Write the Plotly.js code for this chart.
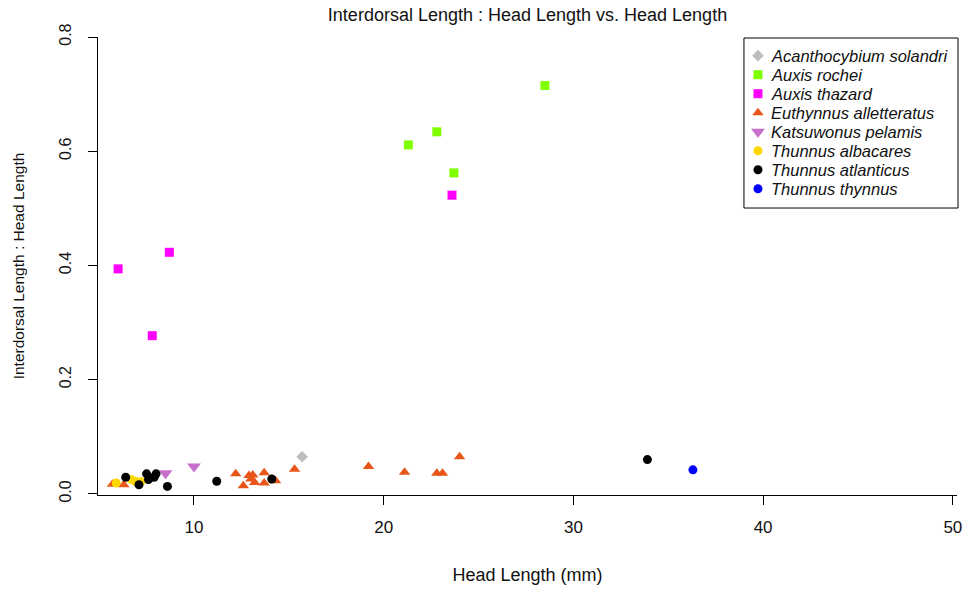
<!DOCTYPE html>
<html>
<head>
<meta charset="utf-8">
<script src="https://cdn.plot.ly/plotly-3.0.1.min.js"></script>
<style>
  html, body { margin: 0; padding: 0; background: #fff; }
  #chart { width: 971px; height: 592px; }
</style>
</head>
<body>
<div id="chart"></div>
<script>
// Interdorsal length relative to head length, by species
const species = [
  "Acanthocybium solandri",
  "Auxis rochei",
  "Auxis thazard",
  "Euthynnus alletteratus",
  "Katsuwonus pelamis",
  "Thunnus albacares",
  "Thunnus atlanticus",
  "Thunnus thynnus"
];

// Head length (mm) per species
const headAcanthocybium = [15.7];
const headRochei = [28.5, 22.8, 21.3, 23.7];
const headThazard = [23.6, 8.7, 6.0, 7.8];
const headEuthynnus = [5.7, 6.3, 12.2, 12.6, 12.9, 13.0, 13.1, 13.2, 13.7, 13.7,
                       14.3, 15.3, 19.2, 21.1, 22.8, 23.1, 24.0];
const headKatsuwonus = [8.5, 10.0];
const headAlbacares = [5.9, 6.7, 6.9, 7.2];
const headAtlanticus = [6.4, 7.1, 7.5, 7.6, 8.0, 7.9, 8.6, 11.2, 14.1, 33.9];
const headThynnus = [36.3];

// Interdorsal length : head length ratio per species
const ratioAcanthocybium = [0.065];
const ratioRochei = [0.715, 0.634, 0.611, 0.562];
const ratioThazard = [0.523, 0.423, 0.394, 0.277];
const ratioEuthynnus = [0.017, 0.016, 0.035, 0.014, 0.032, 0.026, 0.033, 0.020, 0.037, 0.019,
                        0.023, 0.043, 0.048, 0.038, 0.036, 0.036, 0.065];
const ratioKatsuwonus = [0.036, 0.048];
const ratioAlbacares = [0.019, 0.025, 0.022, 0.021];
const ratioAtlanticus = [0.029, 0.016, 0.035, 0.025, 0.035, 0.029, 0.013, 0.022, 0.026, 0.060];
const ratioThynnus = [0.042];

const xTicks = [10, 20, 30, 40, 50];
const yTicks = [0.0, 0.2, 0.4, 0.6, 0.8];

const colors = ["#BEBEBE", "#7FFF00", "#FF00FF", "#E8561A", "#C86FCB", "#FFD700", "#000000", "#0000FF"];
const symbols = ["diamond", "square", "square", "triangle-up", "triangle-down", "circle", "circle", "circle"];
const sizes = [9, 9, 9, 10, 12, 9, 9, 9];

const heads = [headAcanthocybium, headRochei, headThazard, headEuthynnus,
               headKatsuwonus, headAlbacares, headAtlanticus, headThynnus];
const ratios = [ratioAcanthocybium, ratioRochei, ratioThazard, ratioEuthynnus,
                ratioKatsuwonus, ratioAlbacares, ratioAtlanticus, ratioThynnus];

const plain = "Liberation Sans, Arial, sans-serif";

const traces = species.map((name, i) => ({
  type: "scatter",
  mode: "markers",
  name: name,
  x: heads[i],
  y: ratios[i],
  cliponaxis: false,
  marker: { symbol: symbols[i], color: colors[i], size: sizes[i], line: { width: 0 } },
  showlegend: false
}));

// Key: symbols on an overlay axis spanning the plot area, labels as annotations
const keySymX = 0.7683, keyTextX = 0.7812, keyTop = 0.9592, keyStep = 0.0415;
const keyY = species.map((_, i) => keyTop - i * keyStep);
species.forEach((name, i) => {
  traces.push({
    type: "scatter",
    mode: "markers",
    xaxis: "x2",
    yaxis: "y2",
    x: [keySymX],
    y: [keyY[i]],
    cliponaxis: false,
    marker: { symbol: symbols[i], color: colors[i], size: sizes[i], opacity: 1, line: { width: 0 } },
    showlegend: false
  });
});

const annotations = species.map((name, i) => ({
  xref: "paper", yref: "paper",
  x: keyTextX, y: keyY[i],
  xanchor: "left", yanchor: "middle",
  text: name,
  showarrow: false,
  font: { family: plain, size: 16.5, color: "#111", style: "italic" }
}));

const layout = {
  width: 971,
  height: 592,
  margin: { l: 98, r: 14, t: 37, b: 97 },
  paper_bgcolor: "#fff",
  plot_bgcolor: "#fff",
  showlegend: false,
  title: {
    text: "Interdorsal Length : Head Length vs. Head Length",
    font: { family: plain, size: 18, color: "#111" },
    x: 0.5, xref: "paper", xanchor: "center",
    y: 0.975, yanchor: "middle"
  },
  xaxis: {
    range: [4.94, 50.22],
    tickvals: xTicks,
    ticktext: xTicks.map(String),
    showgrid: false, zeroline: false,
    showline: true, linecolor: "#000", linewidth: 1,
    ticks: "outside", ticklen: 9, tickcolor: "#000", tickwidth: 1,
    ticklabelstandoff: 8,
    tickfont: { family: plain, size: 17, color: "#111" },
    title: { text: "Head Length (mm)", font: { family: plain, size: 18, color: "#111" }, standoff: 31 }
  },
  yaxis: {
    range: [-0.002, 0.8],
    tickvals: yTicks,
    ticktext: yTicks.map(v => v.toFixed(1)),
    tickangle: -90,
    showgrid: false, zeroline: false,
    showline: true, linecolor: "#000", linewidth: 1,
    ticks: "outside", ticklen: 9, tickcolor: "#000", tickwidth: 1,
    ticklabelstandoff: 11,
    tickfont: { family: plain, size: 16, color: "#111" },
    title: { text: "Interdorsal Length : Head Length", font: { family: plain, size: 15.5, color: "#111" }, standoff: 28 }
  },
  xaxis2: { domain: [0, 1], range: [0, 1], overlaying: "x", anchor: "y2", visible: false, fixedrange: true },
  yaxis2: { domain: [0, 1], range: [0, 1], overlaying: "y", anchor: "x2", visible: false, fixedrange: true },
  shapes: [{
    type: "rect", xref: "paper", yref: "paper", layer: "below",
    x0: 0.752, x1: 1.0012, y0: 0.6266, y1: 0.9978,
    line: { color: "#000", width: 1 }, fillcolor: "#fff"
  }],
  annotations: annotations
};

Plotly.newPlot("chart", traces, layout, { staticPlot: true, displayModeBar: false });
</script>
</body>
</html>
